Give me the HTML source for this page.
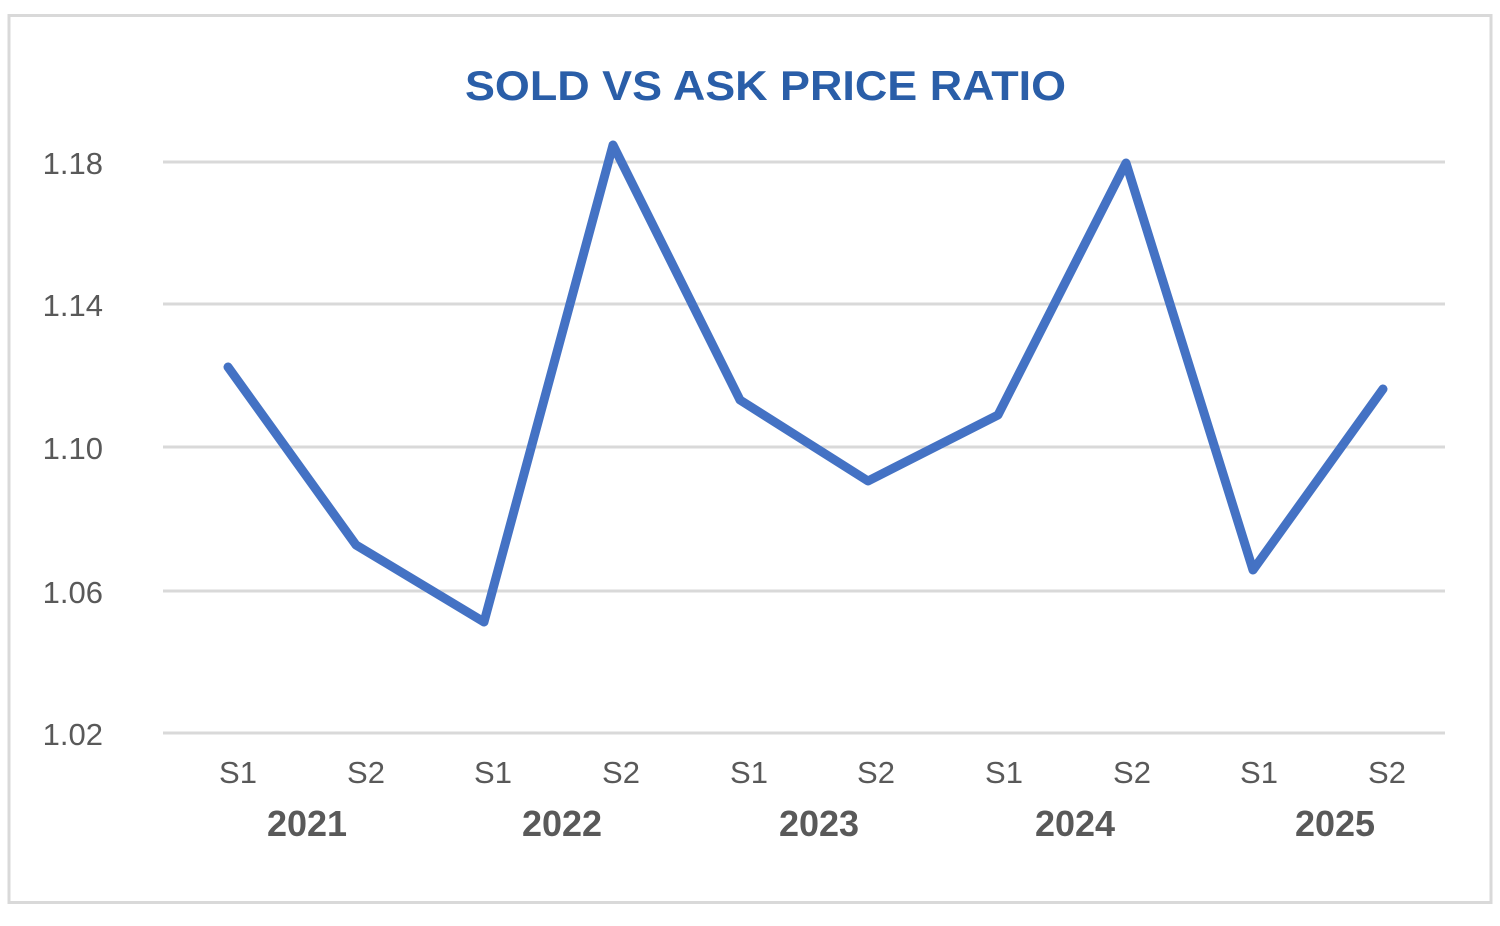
<!DOCTYPE html>
<html><head><meta charset="utf-8"><style>
html,body{margin:0;padding:0;background:#fff;}
svg{display:block;}
</style></head><body>
<svg width="1500" height="926" viewBox="0 0 1500 926" xmlns="http://www.w3.org/2000/svg">
<rect x="9" y="15.5" width="1482" height="887" fill="#fff" stroke="#d9d9d9" stroke-width="3"/>
<text x="465" y="100" textLength="601" lengthAdjust="spacingAndGlyphs" font-family="Liberation Sans, sans-serif" font-weight="bold" font-size="42" fill="#2a5ea8">SOLD VS ASK PRICE RATIO</text>
<g stroke="#d9d9d9" stroke-width="3">
<line x1="163" y1="162" x2="1445" y2="162"/>
<line x1="163" y1="304" x2="1445" y2="304"/>
<line x1="163" y1="447" x2="1445" y2="447"/>
<line x1="163" y1="591" x2="1445" y2="591"/>
<line x1="163" y1="733" x2="1445" y2="733"/>
</g>
<g font-family="Liberation Sans, sans-serif" font-size="31" fill="#595959" text-anchor="end">
<text x="103" y="174">1.18</text>
<text x="103" y="316">1.14</text>
<text x="103" y="459">1.10</text>
<text x="103" y="603">1.06</text>
<text x="103" y="745">1.02</text>
</g>
<g font-family="Liberation Sans, sans-serif" font-size="31" fill="#595959" text-anchor="middle">
<text x="238" y="783">S1</text><text x="366" y="783">S2</text>
<text x="493" y="783">S1</text><text x="621" y="783">S2</text>
<text x="749" y="783">S1</text><text x="876" y="783">S2</text>
<text x="1004" y="783">S1</text><text x="1132" y="783">S2</text>
<text x="1259" y="783">S1</text><text x="1387" y="783">S2</text>
</g>
<g font-family="Liberation Sans, sans-serif" font-size="36" font-weight="bold" fill="#595959" text-anchor="middle">
<text x="307" y="836">2021</text>
<text x="562" y="836">2022</text>
<text x="819" y="836">2023</text>
<text x="1075" y="836">2024</text>
<text x="1335" y="836">2025</text>
</g>
<polyline fill="none" stroke="#4472c4" stroke-width="9" stroke-linejoin="round" stroke-linecap="round"
points="228,367 356,545 484,622 613,145 740,400 868,481 998,415 1126,163 1253,570 1383,389"/>
</svg>
</body></html>
